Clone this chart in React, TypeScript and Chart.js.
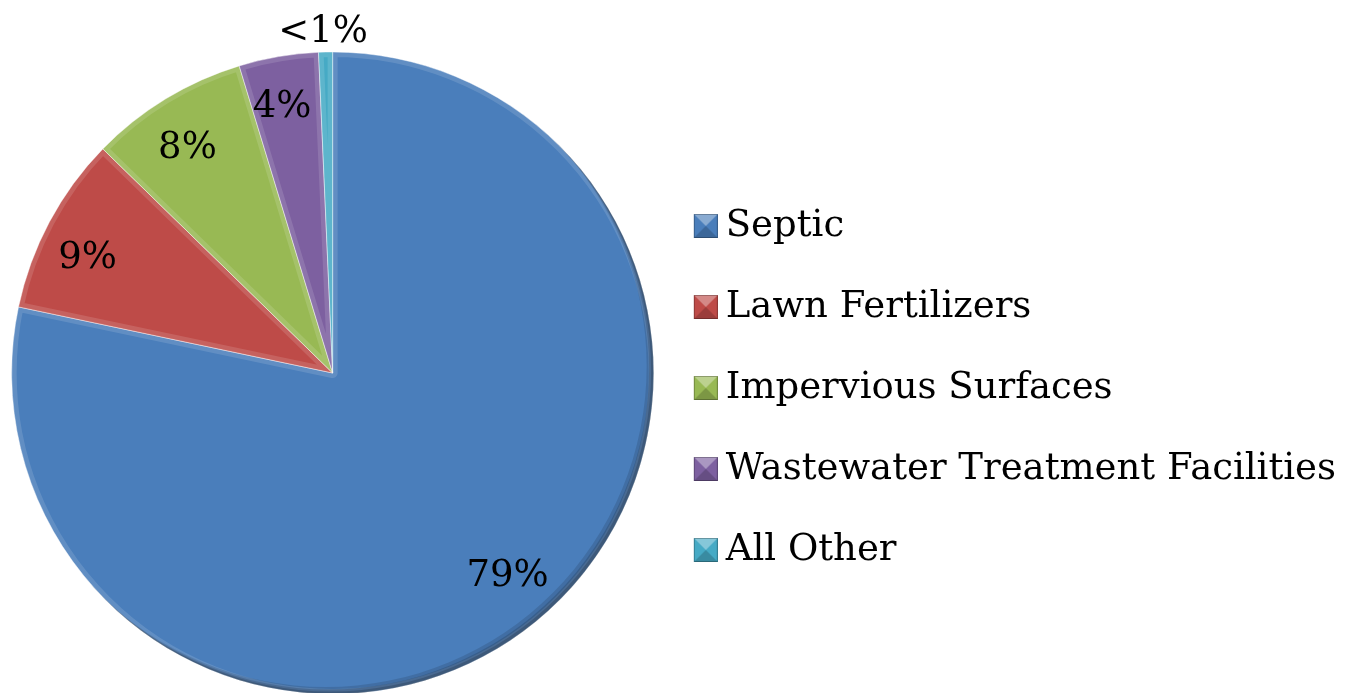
import React, { useEffect, useRef } from "react";
import { Chart, registerables } from "chart.js";

Chart.register(...registerables);

const categories = [
  "Septic",
  "Lawn Fertilizers",
  "Impervious Surfaces",
  "Wastewater Treatment Facilities",
  "All Other",
];
const shares = [78.3, 9.0, 8.0, 4.0, 0.7];
const shareLabels = ["79%", "9%", "8%", "4%", "<1%"];
const sliceColors = ["#4A7EBB", "#BE4B48", "#98B954", "#7D60A0", "#46AAC5"];

const FONT = "'DejaVu Serif', Georgia, serif";
const labelRadiusFactor = [0.84, 0.83, 0.84, 0.86, 1.07];
const labelNudge: [number, number][] = [
  [5, -6],
  [-10, 11],
  [-5, 6],
  [-4, 6],
  [-2, 3],
];

function makeMarker(color: string): HTMLCanvasElement {
  const W = 35;
  const S = 24;
  const c = document.createElement("canvas");
  c.width = W;
  c.height = S;
  const g = c.getContext("2d")!;
  const x0 = W - S;
  g.fillStyle = color;
  g.fillRect(x0, 0, S, S);
  g.fillStyle = "rgba(255,255,255,0.35)";
  g.beginPath();
  g.moveTo(x0, 0);
  g.lineTo(x0 + S, 0);
  g.lineTo(x0 + S / 2, S / 2);
  g.closePath();
  g.fill();
  g.fillStyle = "rgba(0,0,0,0.18)";
  g.beginPath();
  g.moveTo(x0, S);
  g.lineTo(x0 + S, S);
  g.lineTo(x0 + S / 2, S / 2);
  g.closePath();
  g.fill();
  g.strokeStyle = "rgba(0,0,0,0.25)";
  g.lineWidth = 1;
  g.strokeRect(x0 + 0.5, 0.5, S - 1, S - 1);
  return c;
}

const bevelPlugin = {
  id: "bevel",
  afterDatasetsDraw(chart: any) {
    const meta = chart.getDatasetMeta(0);
    const ctx = chart.ctx;
    let cx = 0, cy = 0, R = 0;
    meta.data.forEach((arc: any) => {
      const { x, y, startAngle, endAngle, outerRadius } = arc.getProps(
        ["x", "y", "startAngle", "endAngle", "outerRadius"],
        true
      );
      cx = x; cy = y; R = outerRadius;
      ctx.save();
      ctx.beginPath();
      ctx.moveTo(x, y);
      ctx.arc(x, y, outerRadius, startAngle, endAngle);
      ctx.closePath();
      ctx.clip();
      ctx.lineJoin = "round";
      ctx.strokeStyle = "rgba(255,255,255,0.13)";
      ctx.lineWidth = 10;
      ctx.stroke();
      ctx.restore();
    });
    // dark rim toward the lower right
    ctx.save();
    ctx.beginPath();
    ctx.arc(cx, cy, R, 0, Math.PI * 2);
    ctx.clip();
    const layers: [number, number][] = [
      [7, 0.12],
      [4.5, 0.14],
      [2.5, 0.16],
    ];
    layers.forEach(([off, a]) => {
      ctx.beginPath();
      ctx.rect(cx - R - 20, cy - R - 20, 2 * R + 40, 2 * R + 40);
      ctx.arc(cx - off, cy - off, R, 0, Math.PI * 2, true);
      ctx.fillStyle = `rgba(0,0,0,${a})`;
      ctx.fill("evenodd");
    });
    ctx.restore();
  },
};

const sliceLabelPlugin = {
  id: "sliceLabels",
  afterDatasetsDraw(chart: any) {
    const meta = chart.getDatasetMeta(0);
    const ctx = chart.ctx;
    ctx.save();
    ctx.font = `37px ${FONT}`;
    ctx.fillStyle = "#000";
    ctx.textAlign = "center";
    ctx.textBaseline = "middle";
    meta.data.forEach((arc: any, i: number) => {
      const { x, y, startAngle, endAngle, outerRadius } = arc.getProps(
        ["x", "y", "startAngle", "endAngle", "outerRadius"],
        true
      );
      const mid = (startAngle + endAngle) / 2;
      const r = outerRadius * labelRadiusFactor[i];
      ctx.fillText(
        shareLabels[i],
        x + Math.cos(mid) * r + labelNudge[i][0],
        y + Math.sin(mid) * r + labelNudge[i][1]
      );
    });
    ctx.restore();
  },
};

export default function App() {
  const canvasRef = useRef<HTMLCanvasElement | null>(null);

  useEffect(() => {
    if (!canvasRef.current) return;
    const markers = sliceColors.map(makeMarker);
    const baseGen = (Chart as any).overrides.pie.plugins.legend.labels.generateLabels;
    const chart = new Chart(canvasRef.current, {
      type: "pie",
      data: {
        labels: categories,
        datasets: [
          {
            data: shares,
            backgroundColor: sliceColors,
            borderColor: "rgba(255,255,255,0.45)",
            borderWidth: 1,
            radius: 321,
          } as any,
        ],
      },
      options: {
        animation: false,
        responsive: true,
        maintainAspectRatio: false,
        layout: { padding: { left: 16, top: 53, right: 0, bottom: 0 } },
        plugins: {
          tooltip: { enabled: false },
          legend: {
            position: "right",
            maxWidth: 720,
            title: { display: true, text: "", padding: 0, font: { size: 25 } },
            labels: {
              usePointStyle: true,
              pointStyleWidth: 14,
              boxHeight: 24,
              padding: 44,
              color: "#000",
              font: { family: FONT, size: 37 },
              generateLabels: (ch: any) =>
                baseGen(ch).map((item: any, i: number) => ({ ...item, pointStyle: markers[i] })),
            },
          } as any,
        },
      },
      plugins: [bevelPlugin, sliceLabelPlugin],
    });
    return () => chart.destroy();
  }, []);

  return (
    <div style={{ position: "fixed", left: 0, top: 0, width: 1346, height: 693, background: "#fff" }}>
      <canvas ref={canvasRef} />
    </div>
  );
}
